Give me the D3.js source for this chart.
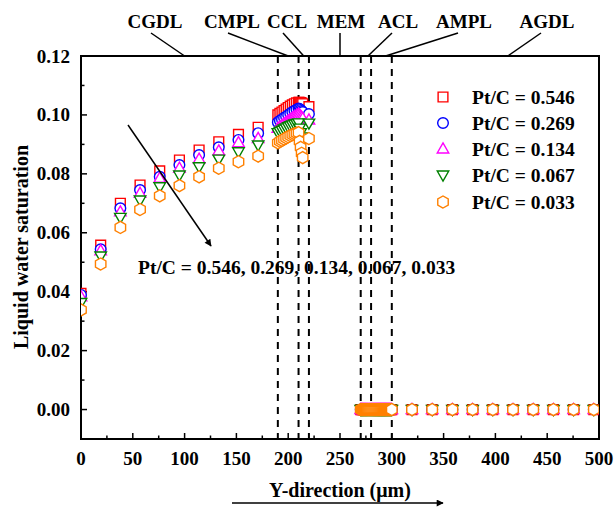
<!DOCTYPE html>
<html><head><meta charset="utf-8">
<script src="https://cdn.jsdelivr.net/npm/d3@7"></script>
<style>
body{margin:0;background:#fff;}
svg text{font-family:"Liberation Serif","Times New Roman",serif;font-weight:bold;}
</style>
</head><body>
<svg id="chart" width="616" height="509"></svg>
<script>
// ---- data ----
const seriesNames = ["Pt/C = 0.546","Pt/C = 0.269","Pt/C = 0.134","Pt/C = 0.067","Pt/C = 0.033"];
const seriesColors = ["#ff0000","#0000ff","#ff00ff","#008000","#ff8000"];
const seriesSymbols = ["square","circle","triangle","triangleDown","hexagon"];
// cathode side positions (um)
const xCathode = [0,19,38,57,76,95,114,133,152,171,
                  190,192,194,196,198,200,202,204,206,208,210,
                  211,212,213,214,220];
const s0546 = [0.0394,0.0558,0.0700,0.0762,0.0810,0.0847,0.0881,0.0909,0.0934,0.0958,
               0.1000,0.1005,0.1010,0.1015,0.1020,0.1025,0.1030,0.1034,0.1038,0.1041,0.1043,
               0.1043,0.1042,0.1040,0.1038,0.1028];
const s0269 = [0.0389,0.0544,0.0683,0.0745,0.0790,0.0830,0.0864,0.0890,0.0915,0.0938,
               0.0975,0.0980,0.0985,0.0990,0.0995,0.1000,0.1005,0.1010,0.1014,0.1018,0.1022,
               0.1020,0.1017,0.1013,0.1010,0.1003];
const s0134 = [0.0383,0.0539,0.0671,0.0734,0.0785,0.0819,0.0850,0.0878,0.0906,0.0920,
               0.0955,0.0960,0.0965,0.0970,0.0975,0.0980,0.0985,0.0990,0.0995,0.0999,0.1003,
               0.1000,0.0996,0.0992,0.0988,0.0983];
const s0067 = [0.0363,0.0521,0.0652,0.0711,0.0756,0.0796,0.0824,0.0850,0.0875,0.0898,
               0.0940,0.0944,0.0948,0.0952,0.0956,0.0960,0.0963,0.0966,0.0969,0.0971,0.0973,
               0.0955,0.0940,0.0925,0.0910,0.0972];
const s0033 = [0.0338,0.0494,0.0618,0.0679,0.0725,0.0760,0.0790,0.0819,0.0841,0.0860,
               0.0905,0.0910,0.0914,0.0918,0.0922,0.0926,0.0930,0.0933,0.0936,0.0938,0.0940,
               0.0910,0.0890,0.0870,0.0855,0.0920];
// anode side positions (um): saturation is zero for every series
const xAnode = [270,271,272,273,274,275,276,277,278,279,280,281,282,283,284,285,286,287,288,289,
                290,291,292,293,294,295,296,297,298,299,300,
                319.5,339,358.5,378,397.5,417,436.5,456,475.5,495];
const anodeValue = 0;
const layerBounds = [190,210,220,270,280,300];
const layerNames = ["CGDL","CMPL","CCL","MEM","ACL","AMPL","AGDL"];
const layerPoints = [100,200,215,250,277,294,412];
const xTicks = [0,50,100,150,200,250,300,350,400,450,500];
const yTicks = [0.00,0.02,0.04,0.06,0.08,0.10,0.12];
const annotationText = "Pt/C = 0.546, 0.269, 0.134, 0.067, 0.033";

// ---- layout ----
const L=81,R=599,T=56,B=439;
const x=d3.scaleLinear().domain([0,500]).range([L,R]);
const y=d3.scaleLinear().domain([-0.01,0.12]).range([B,T]);
const svg=d3.select("#chart");
const defs=svg.append("defs");
defs.append("clipPath").attr("id","clip").append("rect").attr("x",L).attr("y",T).attr("width",R-L).attr("height",B-T);
defs.append("marker").attr("id","ah").attr("viewBox","0 0 10 10").attr("refX",9).attr("refY",5)
  .attr("markerWidth",10).attr("markerHeight",7).attr("markerUnits","userSpaceOnUse").attr("orient","auto")
  .append("path").attr("d","M0,0L10,5L0,10Z").attr("fill","#000");

// dashed layer boundaries
svg.append("g").selectAll("line").data(layerBounds).join("line")
  .attr("x1",d=>x(d)).attr("x2",d=>x(d)).attr("y1",T).attr("y2",B)
  .attr("stroke","#000").attr("stroke-width",2).attr("stroke-dasharray","7,6");

// axes
const xMinor=d3.range(0,501,25), yMinor=d3.range(-0.01,0.1201,0.01);
const ax=svg.append("g");
ax.selectAll(".xt").data(xMinor).join("line")
  .attr("x1",d=>x(d)).attr("x2",d=>x(d)).attr("y1",B).attr("y2",d=>B-(Math.abs(d%50)<1e-6?6:3.5))
  .attr("stroke","#000").attr("stroke-width",1.5);
ax.selectAll(".yt").data(yMinor).join("line")
  .attr("y1",d=>y(d)).attr("y2",d=>y(d)).attr("x1",L).attr("x2",d=>L+(Math.abs(Math.round(d*100))%2===0?6:3.5))
  .attr("stroke","#000").attr("stroke-width",1.5);
ax.selectAll(".xl").data(xTicks).join("text")
  .attr("x",d=>x(d)).attr("y",465).attr("text-anchor","middle").attr("font-size",19).text(d=>d);
ax.selectAll(".yl").data(yTicks).join("text")
  .attr("x",70).attr("y",d=>y(d)+6.5).attr("text-anchor","end").attr("font-size",19).text(d3.format(".2f"));
svg.append("rect").attr("x",L).attr("y",T).attr("width",R-L).attr("height",B-T)
  .attr("fill","none").attr("stroke","#000").attr("stroke-width",2);

// titles
svg.append("text").attr("x",340).attr("y",497).attr("text-anchor","middle").attr("font-size",20).text("Y-direction (μm)");
svg.append("line").attr("x1",232).attr("x2",443).attr("y1",503).attr("y2",503).attr("stroke","#000").attr("stroke-width",1.5).attr("marker-end","url(#ah)");
svg.append("text").attr("transform","translate(28,247) rotate(-90)").attr("text-anchor","middle").attr("font-size",20).text("Liquid water saturation");

// layer labels
const lab=svg.append("g");
const labelX=[155,232,287,341,398,464,547];
layerNames.forEach((n,i)=>{
  lab.append("text").attr("x",labelX[i]).attr("y",28).attr("text-anchor","middle").attr("font-size",19).text(n);
  lab.append("line").attr("x1",i===3?x(layerPoints[i]):labelX[i]+(i<3?-4:-6)).attr("y1",33)
    .attr("x2",x(layerPoints[i])).attr("y2",T).attr("stroke","#000").attr("stroke-width",1.5);
});

// symbols
function sym(name,size){
  const h=size/2;
  if(name==="square") return `M${-h*0.85},${-h*0.85}H${h*0.85}V${h*0.85}H${-h*0.85}Z`;
  if(name==="circle") return d3.symbol(d3.symbolCircle,Math.PI*h*h*0.85)();
  if(name==="triangle") return `M0,${-h*1.05}L${h},${h*0.7}L${-h},${h*0.7}Z`;
  if(name==="triangleDown") return `M0,${h*1.05}L${h},${-h*0.7}L${-h},${-h*0.7}Z`;
  if(name==="hexagon"){const r=h*1.05;let p=[];for(let k=0;k<6;k++){const a=Math.PI/2+k*Math.PI/3;p.push([r*Math.cos(a),r*Math.sin(a)]);}return "M"+p.map(q=>q.join(",")).join("L")+"Z";}
}
const series=[s0546,s0269,s0134,s0067,s0033];
const plot=svg.append("g").attr("clip-path","url(#clip)");
series.forEach((vals,si)=>{
  const pts=xCathode.map((xv,i)=>[xv,vals[i]]).concat(xAnode.map(xv=>[xv,anodeValue]));
  plot.append("g").selectAll("path").data(pts).join("path")
    .attr("transform",d=>`translate(${x(d[0])},${y(d[1])})`)
    .attr("d",sym(seriesSymbols[si],11.5))
    .attr("fill","#fff").attr("stroke",seriesColors[si]).attr("stroke-width",1.4);
});

// legend
const lg=svg.append("g");
const legY=[97,123,149,175,202];
seriesNames.forEach((n,i)=>{
  lg.append("path").attr("transform",`translate(443,${legY[i]})`).attr("d",sym(seriesSymbols[i],11.5))
    .attr("fill","#fff").attr("stroke",seriesColors[i]).attr("stroke-width",1.4);
  lg.append("text").attr("x",472).attr("y",legY[i]+6.5).attr("font-size",19.5).text(n);
});

// annotation
svg.append("line").attr("x1",128).attr("y1",125).attr("x2",211).attr("y2",246)
  .attr("stroke","#000").attr("stroke-width",1.5).attr("marker-end","url(#ah)");
svg.append("text").attr("x",138).attr("y",274).attr("font-size",19.5).text(annotationText);
</script>
</body></html>
